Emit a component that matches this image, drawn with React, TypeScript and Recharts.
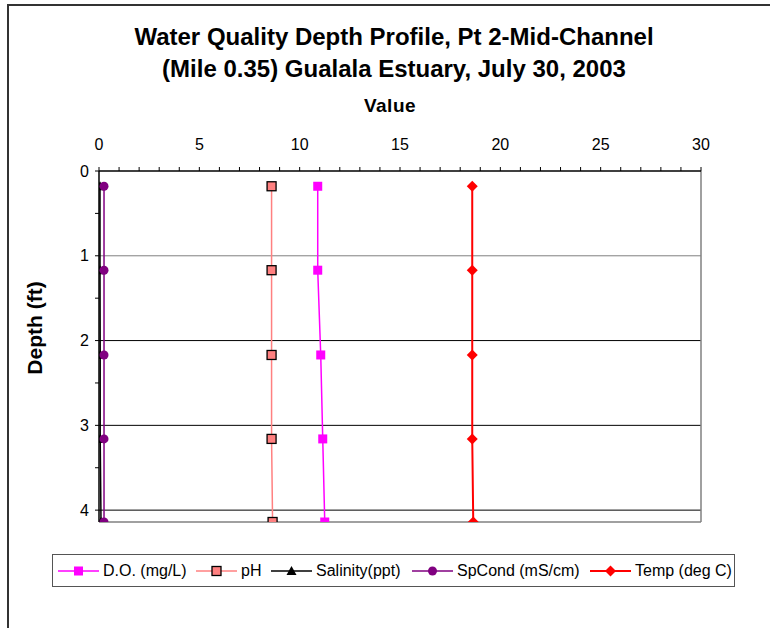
import React from 'react';
import { ScatterChart, Scatter, XAxis, YAxis, ReferenceLine, Legend } from 'recharts';

// ---- data ----
const depths = [0.18, 1.17, 2.17, 3.16, 4.14];
const doValues = [10.9, 10.9, 11.05, 11.15, 11.25];
const phValues = [8.6, 8.6, 8.6, 8.6, 8.65];
const salinityValues = [0.05, 0.05, 0.06, 0.06, 0.1];
const spCondValues = [0.25, 0.25, 0.25, 0.25, 0.25];
const tempValues = [18.6, 18.6, 18.6, 18.6, 18.65];

const seriesNames = ['D.O. (mg/L)', 'pH', 'Salinity(ppt)', 'SpCond (mS/cm)', 'Temp (deg C)'];
const xTicks = [0, 1, 2, 3, 4, 5, 6, 7, 8, 9, 10, 11, 12, 13, 14, 15, 16, 17, 18, 19, 20, 21, 22, 23, 24, 25, 26, 27, 28, 29, 30];
const yTicks = [0, 0.5, 1, 1.5, 2, 2.5, 3, 3.5, 4];
const gridDepths = [1, 2, 3, 4];

const FONT = '"Liberation Sans", Arial, sans-serif';

const toPoints = (vals: number[]) => vals.map((v, i) => ({ x: v, y: depths[i] }));

type Marker = 'square' | 'squareOutlined' | 'triangle' | 'circle' | 'diamond';

const drawMarker = (kind: Marker, cx: number, cy: number, color: string) => {
  switch (kind) {
    case 'square':
      return <rect x={cx - 4.5} y={cy - 4.5} width={9} height={9} fill={color} />;
    case 'squareOutlined':
      return <rect x={cx - 4.5} y={cy - 4.5} width={9} height={9} fill={color} stroke="#000" strokeWidth={1.3} />;
    case 'triangle':
      return <polygon points={`${cx},${cy - 5} ${cx + 5},${cy + 4} ${cx - 5},${cy + 4}`} fill={color} />;
    case 'circle':
      return <circle cx={cx} cy={cy} r={4.5} fill={color} />;
    case 'diamond':
      return <polygon points={`${cx},${cy - 5.5} ${cx + 5.5},${cy} ${cx},${cy + 5.5} ${cx - 5.5},${cy}`} fill={color} />;
  }
  return null;
};

const series = [
  { name: seriesNames[0], data: toPoints(doValues), color: '#FF00FF', marker: 'square' as Marker, width: 1.5 },
  { name: seriesNames[1], data: toPoints(phValues), color: '#FF8080', marker: 'squareOutlined' as Marker, width: 1.5 },
  { name: seriesNames[2], data: toPoints(salinityValues), color: '#000000', marker: 'triangle' as Marker, width: 1.5 },
  { name: seriesNames[3], data: toPoints(spCondValues), color: '#800080', marker: 'circle' as Marker, width: 1.5 },
  { name: seriesNames[4], data: toPoints(tempValues), color: '#FF0000', marker: 'diamond' as Marker, width: 2 },
];

const legendItemLeft = [5, 143, 218, 359, 537];

const LegendContent = () => (
  <div
    style={{
      position: 'relative',
      width: 683,
      height: 33,
      boxSizing: 'border-box',
      border: '1px solid #555',
      background: '#fff',
      fontFamily: FONT,
      fontSize: 16,
      color: '#000',
    }}
  >
    {series.map((s, i) => (
      <div
        key={s.name}
        style={{ position: 'absolute', left: legendItemLeft[i], top: 0, height: 31, display: 'flex', alignItems: 'center', whiteSpace: 'nowrap' }}
      >
        <svg width={41} height={14} style={{ display: 'block' }}>
          <line x1={0} y1={7} x2={41} y2={7} stroke={s.color} strokeWidth={s.width} />
          {drawMarker(s.marker, 20.5, 7, s.color)}
        </svg>
        <span style={{ marginLeft: 4 }}>{s.name}</span>
      </div>
    ))}
  </div>
);

export default function App() {
  return (
    <div style={{ position: 'absolute', left: 0, top: 0, width: 770, height: 628, overflow: 'hidden', background: '#fff' }}>
      <div style={{ position: 'absolute', left: 7, top: 4, width: 800, height: 700, borderLeft: '2px solid #333', borderTop: '2px solid #333' }} />
      <div style={{ position: 'absolute', left: 0, width: 788, top: 21, textAlign: 'center', fontFamily: FONT, fontWeight: 'bold', fontSize: 24, lineHeight: '32px', color: '#000' }}>
        Water Quality Depth Profile, Pt 2-Mid-Channel
        <br />
        (Mile 0.35) Gualala Estuary, July 30, 2003
      </div>
      <div style={{ position: 'absolute', left: 0, width: 780, top: 94, textAlign: 'center', fontFamily: FONT, fontWeight: 'bold', fontSize: 19, lineHeight: '24px', letterSpacing: 0.5, color: '#000' }}>
        Value
      </div>
      <div
        style={{
          position: 'absolute',
          left: 35,
          top: 328,
          transform: 'translate(-50%, -50%) rotate(-90deg)',
          fontFamily: FONT,
          fontWeight: 'bold',
          fontSize: 21,
          whiteSpace: 'nowrap',
          color: '#000',
        }}
      >
        Depth (ft)
      </div>
      <div style={{ position: 'absolute', left: 0, top: 0 }}>
        <ScatterChart width={770} height={628} margin={{ top: 141, right: 69, bottom: 73, left: 57 }}>
          <XAxis
            type="number"
            dataKey="x"
            orientation="top"
            domain={[0, 30]}
            ticks={xTicks}
            interval={0}
            height={30}
            tickSize={4}
            tickMargin={17}
            tickFormatter={(v: number) => (v % 5 === 0 ? String(v) : '')}
            axisLine={{ stroke: '#000', strokeWidth: 1.5 }}
            tickLine={{ stroke: '#000' }}
            tick={{ fontSize: 16, fill: '#000', fontFamily: FONT }}
            allowDataOverflow
          />
          <YAxis
            type="number"
            dataKey="y"
            reversed
            domain={[0, 4.14]}
            ticks={yTicks}
            interval={0}
            width={42}
            tickSize={4}
            tickMargin={6}
            tickFormatter={(v: number) => (Number.isInteger(v) ? String(v) : '')}
            axisLine={{ stroke: '#000', strokeWidth: 1.5 }}
            tickLine={{ stroke: '#000' }}
            tick={{ fontSize: 16, fill: '#000', fontFamily: FONT }}
            allowDataOverflow
          />
          {gridDepths.map((d) => (
            <ReferenceLine key={d} y={d} stroke={d === 1 ? '#808080' : '#000'} strokeWidth={1} />
          ))}
          <ReferenceLine x={30} stroke="#808080" strokeWidth={1.5} />
          <ReferenceLine y={4.14} stroke="#808080" strokeWidth={1.5} />
          {series.map((s) => (
            <Scatter
              key={s.name}
              name={s.name}
              data={s.data}
              fill={s.color}
              line={{ stroke: s.color, strokeWidth: s.width }}
              lineType="joint"
              isAnimationActive={false}
              shape={(p: any) => drawMarker(s.marker, p.cx, p.cy, s.color)}
            />
          ))}
          <Legend
            verticalAlign="bottom"
            content={() => <LegendContent />}
            wrapperStyle={{ position: 'absolute', left: 52, top: 554, width: 683, height: 33, bottom: 'auto' }}
          />
        </ScatterChart>
      </div>
    </div>
  );
}
